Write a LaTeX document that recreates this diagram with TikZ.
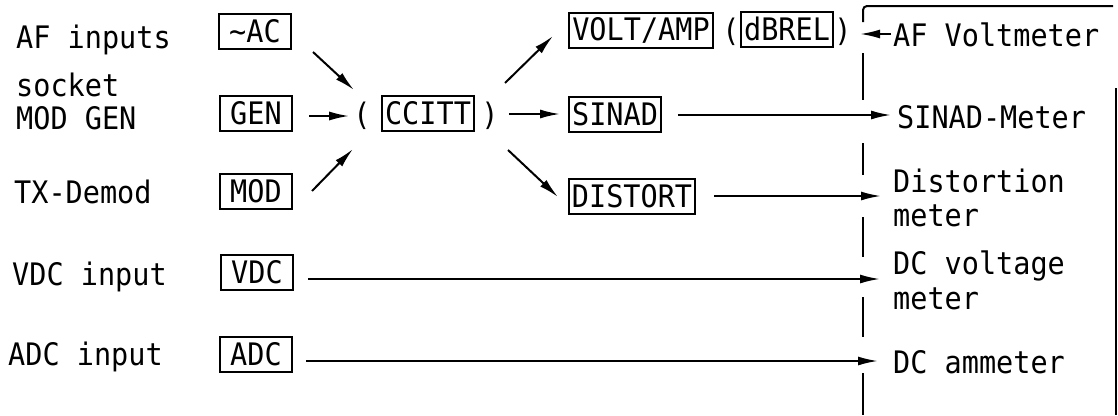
\documentclass[tikz,border=0pt]{standalone}
\usepackage{fontspec}
\setmonofont[FakeStretch=0.92]{DejaVu Sans Mono}
\usetikzlibrary{arrows.meta}
\tikzset{
  lbl/.style={anchor=base west, inner sep=0pt, font=\ttfamily\fontsize{31}{34}\selectfont},
  box/.style={draw, line width=2pt, inner xsep=3pt, inner ysep=0pt, minimum width=72pt, minimum height=35pt, font=\ttfamily\fontsize{31}{34}\selectfont},
  par/.style={inner sep=0pt, font=\ttfamily\fontsize{31}{34}\selectfont},
  arr/.style={line width=2pt, -{Latex[length=20pt,width=9pt]}},
  frm/.style={line width=2pt},
}
\begin{document}
\begin{tikzpicture}[x=1pt,y=-1pt]
\useasboundingbox (0,0) rectangle (1118,415);
% left labels
\node[lbl] (l1) at (16,48) {AF inputs};
\node[lbl] (l2a) at (16,96) {socket};
\node[lbl] (l2b) at (16,129) {MOD GEN};
\node[lbl] (l3) at (14,203) {TX-Demod};
\node[lbl] (l4) at (12,285) {VDC input};
\node[lbl] (l5) at (8,365) {ADC input};
% input boxes
\node[box] (ac) at (255,31) {\textasciitilde AC};
\node[box] (gen) at (256,113) {GEN};
\node[box] (mod) at (256,191) {MOD};
\node[box] (vdc) at (257,272) {VDC};
\node[box] (adc) at (256,354) {ADC};
% ccitt group
\node[par] (lp) at (362,116) {(};
\node[box] (ccitt) at (428,113) {CCITT};
\node[par] (rp) at (490,116) {)};
% outputs
\node[box] (volt) at (641,30) {VOLT/AMP};
\node[par] (lp2) at (731,32) {(};
\node[box] (dbrel) at (787,29) {dBREL};
\node[par] (rp2) at (843,32) {)};
\node[box] (sinad) at (615,114) {SINAD};
\node[box] (dist) at (632,196) {DISTORT};
% right labels
\node[lbl] (r1) at (893,46) {AF Voltmeter};
\node[lbl] (r2) at (897,128) {SINAD-Meter};
\node[lbl] (r3a) at (893,192) {Distortion};
\node[lbl] (r3b) at (893,226) {meter};
\node[lbl] (r4a) at (893,274) {DC voltage};
\node[lbl] (r4b) at (893,309) {meter};
\node[lbl] (r5) at (893,373) {DC ammeter};
% arrow end points
\coordinate (a1s) at (313,52); \coordinate (a1e) at (354,90);
\coordinate (a3s) at (312,191); \coordinate (a3e) at (353,149);
\coordinate (b1s) at (505,83); \coordinate (b1e) at (553,36);
\coordinate (b3s) at (508,150); \coordinate (b3e) at (558,197);
\coordinate (c0s) at (891,34); \coordinate (c0e) at (860,34);
\coordinate (t2) at (891,115);
\coordinate (t3) at (881,196);
\coordinate (t4) at (880,279);
\coordinate (t5) at (878,361);
% arrows
\draw[arr] (a1s) -- (a1e);
\draw[arr, shorten <=16pt, shorten >=4pt] (gen.east |- lp.west) -- (lp.west);
\draw[arr] (a3s) -- (a3e);
\draw[arr] (b1s) -- (b1e);
\draw[arr, shorten <=10pt, shorten >=8pt] (rp.east |- sinad.west) -- (sinad.west);
\draw[arr] (b3s) -- (b3e);
\draw[arr] (c0s) -- (c0e);
\draw[arr, shorten <=16pt] (sinad.east |- t2) -- (t2);
\draw[arr, shorten <=18pt] (dist.east |- t3) -- (t3);
\draw[arr, shorten <=14pt] (vdc.east |- t4) -- (t4);
\draw[arr, shorten <=13pt] (adc.east |- t5) -- (t5);
% frame
\draw[frm, rounded corners=4pt] (863,22) -- (863,6) -- (1113,6);
\draw[frm] (863,53) -- (863,100);
\draw[frm] (863,143) -- (863,175);
\draw[frm] (863,217) -- (863,257);
\draw[frm] (863,297) -- (863,337);
\draw[frm] (863,373) -- (863,415);
\draw[line width=1.2pt] (1116,88) -- (1116,415);
\end{tikzpicture}
\end{document}
